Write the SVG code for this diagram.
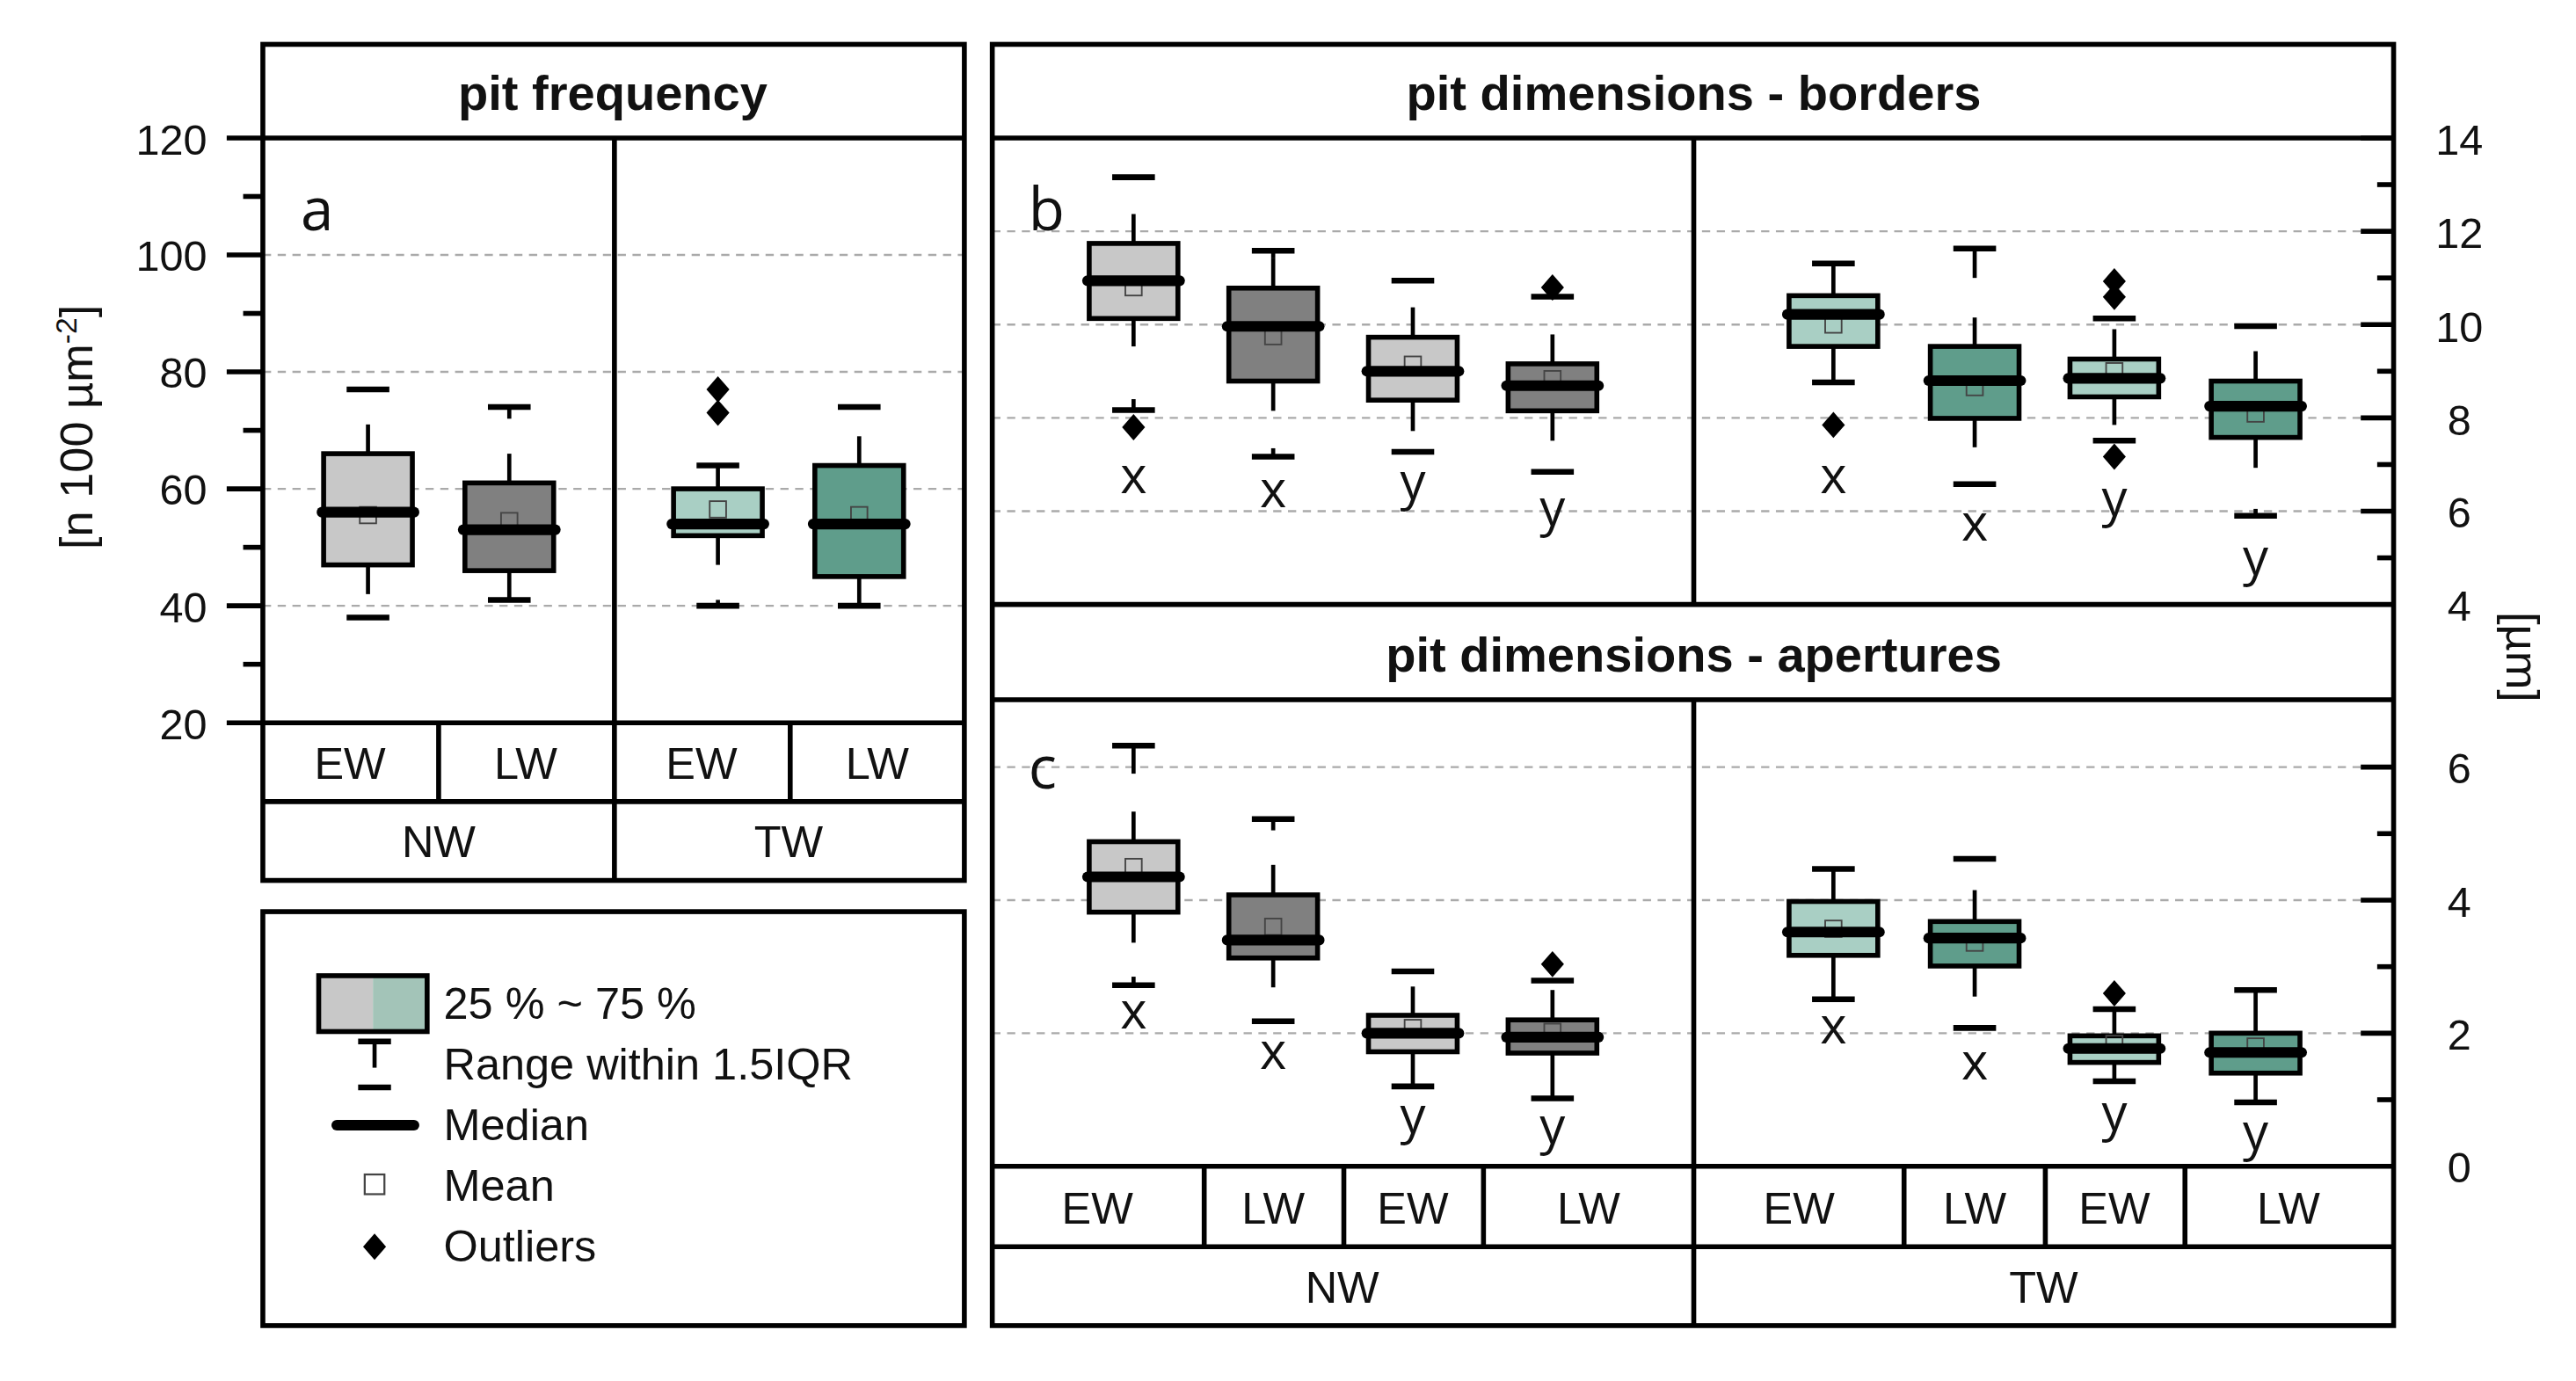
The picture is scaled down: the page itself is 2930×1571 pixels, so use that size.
<svg xmlns="http://www.w3.org/2000/svg" width="2930" height="1571" viewBox="0 0 2930 1571">
<style>
text{font-family:"Liberation Sans",Arial,sans-serif;fill:#111}
.t{font-weight:bold;font-size:30px;text-anchor:middle}
.cat{font-size:27px;text-anchor:middle}
.ax{font-size:26px}
.xy{font-size:31px;text-anchor:middle;font-family:"Open Sans","Liberation Sans",sans-serif}
.pl{font-size:36px;font-family:"Open Sans","Liberation Sans",sans-serif}
.fr{fill:none;stroke:#000;stroke-width:3}
.ln{stroke:#000;stroke-width:3}
.grid{stroke:#aaa;stroke-width:1.3;stroke-dasharray:5 4}
.bx rect.b{stroke:#000;stroke-width:3}
.bx line{stroke:#000;stroke-width:2.5}
.bx line.cap{stroke-width:3.5}
.bx line.med{stroke-width:6.5;stroke-linecap:round}
.bx rect.m{fill:none;stroke:#444;stroke-width:1}
.lg{fill:#c8c8c8}.dg{fill:#808080}.lt{fill:#a9cfc4}.tl{fill:#5f9d8b}
</style>
<defs>
<path id="dia" d="M0,-8 L7,0 L0,8 L-7,0 Z" fill="#000"/>
</defs>
<rect width="2930" height="1571" fill="#fff"/>
<g transform="scale(1.8686)">
<!-- gridlines -->
<g id="grid">
<line class="grid" x1="160" y1="155.2" x2="587" y2="155.2"/>
<line class="grid" x1="160" y1="226.4" x2="587" y2="226.4"/>
<line class="grid" x1="160" y1="297.6" x2="587" y2="297.6"/>
<line class="grid" x1="160" y1="368.8" x2="587" y2="368.8"/>
<line class="grid" x1="604" y1="140.8" x2="1457" y2="140.8"/>
<line class="grid" x1="604" y1="197.6" x2="1457" y2="197.6"/>
<line class="grid" x1="604" y1="254.4" x2="1457" y2="254.4"/>
<line class="grid" x1="604" y1="311.2" x2="1457" y2="311.2"/>
<line class="grid" x1="604" y1="467" x2="1457" y2="467"/>
<line class="grid" x1="604" y1="548" x2="1457" y2="548"/>
<line class="grid" x1="604" y1="629" x2="1457" y2="629"/>
</g>
<!-- frames -->
<g id="frames">
<rect class="fr" x="160" y="27" width="427" height="509"/>
<line class="ln" x1="160" y1="84" x2="587" y2="84"/>
<line class="ln" x1="160" y1="440" x2="587" y2="440"/>
<line class="ln" x1="160" y1="488" x2="587" y2="488"/>
<line class="ln" x1="374" y1="84" x2="374" y2="536"/>
<line class="ln" x1="267" y1="440" x2="267" y2="488"/>
<line class="ln" x1="481" y1="440" x2="481" y2="488"/>
<rect class="fr" x="604" y="27" width="853" height="780"/>
<line class="ln" x1="604" y1="84" x2="1457" y2="84"/>
<line class="ln" x1="604" y1="368" x2="1457" y2="368"/>
<line class="ln" x1="604" y1="426" x2="1457" y2="426"/>
<line class="ln" x1="604" y1="710" x2="1457" y2="710"/>
<line class="ln" x1="604" y1="759" x2="1457" y2="759"/>
<line class="ln" x1="1031" y1="84" x2="1031" y2="368"/>
<line class="ln" x1="1031" y1="426" x2="1031" y2="807"/>
<line class="ln" x1="733" y1="710" x2="733" y2="759"/>
<line class="ln" x1="818" y1="710" x2="818" y2="759"/>
<line class="ln" x1="903" y1="710" x2="903" y2="759"/>
<line class="ln" x1="1159" y1="710" x2="1159" y2="759"/>
<line class="ln" x1="1245" y1="710" x2="1245" y2="759"/>
<line class="ln" x1="1330" y1="710" x2="1330" y2="759"/>
<rect class="fr" x="160" y="555" width="427" height="252"/>
</g>
<!-- axes -->
<g id="axis-left">
<g class="ln">
<line x1="138" y1="84" x2="160" y2="84"/><line x1="138" y1="155.2" x2="160" y2="155.2"/><line x1="138" y1="226.4" x2="160" y2="226.4"/><line x1="138" y1="297.6" x2="160" y2="297.6"/><line x1="138" y1="368.8" x2="160" y2="368.8"/><line x1="138" y1="440" x2="160" y2="440"/>
<line x1="148" y1="119.6" x2="160" y2="119.6"/><line x1="148" y1="190.8" x2="160" y2="190.8"/><line x1="148" y1="262" x2="160" y2="262"/><line x1="148" y1="333.2" x2="160" y2="333.2"/><line x1="148" y1="404.4" x2="160" y2="404.4"/>
</g>
<g class="ax" text-anchor="end">
<text x="126" y="94">120</text><text x="126" y="165">100</text><text x="126" y="236">80</text><text x="126" y="307">60</text><text x="126" y="379">40</text><text x="126" y="450">20</text>
</g>
<text class="ax" font-size="28" text-anchor="middle" transform="translate(56,260) rotate(-90)" style="font-size:28px">[n 100 µm<tspan baseline-shift="super" font-size="18">-2</tspan>]</text>
</g>
<g id="axis-right">
<g class="ln">
<line x1="1437" y1="84" x2="1457" y2="84"/><line x1="1437" y1="140.8" x2="1457" y2="140.8"/><line x1="1437" y1="197.6" x2="1457" y2="197.6"/><line x1="1437" y1="254.4" x2="1457" y2="254.4"/><line x1="1437" y1="311.2" x2="1457" y2="311.2"/>
<line x1="1447" y1="112.4" x2="1457" y2="112.4"/><line x1="1447" y1="169.2" x2="1457" y2="169.2"/><line x1="1447" y1="226" x2="1457" y2="226"/><line x1="1447" y1="282.8" x2="1457" y2="282.8"/><line x1="1447" y1="339.6" x2="1457" y2="339.6"/>
<line x1="1437" y1="467" x2="1457" y2="467"/><line x1="1437" y1="548" x2="1457" y2="548"/><line x1="1437" y1="629" x2="1457" y2="629"/>
<line x1="1447" y1="507.5" x2="1457" y2="507.5"/><line x1="1447" y1="588.5" x2="1457" y2="588.5"/><line x1="1447" y1="669.5" x2="1457" y2="669.5"/>
</g>
<g class="ax" text-anchor="middle">
<text x="1497" y="94">14</text><text x="1497" y="151">12</text><text x="1497" y="208">10</text><text x="1497" y="265">8</text><text x="1497" y="321">6</text><text x="1497" y="378">4</text>
<text x="1497" y="477">6</text><text x="1497" y="558">4</text><text x="1497" y="639">2</text><text x="1497" y="720">0</text>
</g>
<text text-anchor="middle" transform="translate(1526,400) rotate(90)" style="font-size:28px">[µm]</text>
</g>
<!-- titles & labels -->
<g id="labels">
<text class="t" x="373" y="67">pit frequency</text>
<text class="t" x="1031" y="67">pit dimensions - borders</text>
<text class="t" x="1031" y="409">pit dimensions - apertures</text>
<text class="pl" x="183" y="140">a</text>
<text class="pl" x="626" y="140">b</text>
<text class="pl" x="626" y="480">c</text>
<text class="cat" x="213" y="474">EW</text><text class="cat" x="320" y="474">LW</text><text class="cat" x="427" y="474">EW</text><text class="cat" x="534" y="474">LW</text>
<text class="cat" x="267" y="522">NW</text><text class="cat" x="480" y="522">TW</text>
<text class="cat" x="668" y="745">EW</text><text class="cat" x="775" y="745">LW</text><text class="cat" x="860" y="745">EW</text><text class="cat" x="967" y="745">LW</text>
<text class="cat" x="1095" y="745">EW</text><text class="cat" x="1202" y="745">LW</text><text class="cat" x="1287" y="745">EW</text><text class="cat" x="1393" y="745">LW</text>
<text class="cat" x="817" y="793">NW</text><text class="cat" x="1244" y="793">TW</text>
<text class="xy" x="690" y="300">x</text><text class="xy" x="775" y="309">x</text><text class="xy" x="860" y="304">y</text><text class="xy" x="945" y="320">y</text>
<text class="xy" x="1116" y="300">x</text><text class="xy" x="1202" y="329">x</text><text class="xy" x="1287" y="314">y</text><text class="xy" x="1373" y="350">y</text>
<text class="xy" x="690" y="626">x</text><text class="xy" x="775" y="651">x</text><text class="xy" x="860" y="690">y</text><text class="xy" x="945" y="696">y</text>
<text class="xy" x="1116" y="635">x</text><text class="xy" x="1202" y="657">x</text><text class="xy" x="1287" y="688">y</text><text class="xy" x="1373" y="700">y</text>
</g>
<!-- panel a boxes -->
<g id="a-nw-ew" class="bx">
<line x1="224" y1="276.2" x2="224" y2="258.4"/><line x1="224" y1="343.9" x2="224" y2="361.7"/>
<line class="cap" x1="211" y1="237.1" x2="237" y2="237.1"/><line class="cap" x1="211" y1="375.9" x2="237" y2="375.9"/>
<rect class="b lg" x="197" y="276.2" width="54" height="67.7"/>
<rect class="m" x="219" y="308.6" width="10" height="10"/>
<line class="med" x1="196" y1="311.8" x2="252" y2="311.8"/>
</g>
<g id="a-nw-lw" class="bx">
<line x1="310" y1="294" x2="310" y2="276.2"/><line x1="310" y1="254.9" x2="310" y2="247.8"/><line x1="310" y1="347.4" x2="310" y2="365.2"/>
<line class="cap" x1="297" y1="247.8" x2="323" y2="247.8"/><line class="cap" x1="297" y1="365.2" x2="323" y2="365.2"/>
<rect class="b dg" x="283" y="294" width="54" height="53.4"/>
<rect class="m" x="305" y="312.2" width="10" height="10"/>
<line class="med" x1="282" y1="322.5" x2="338" y2="322.5"/>
</g>
<g id="a-tw-ew" class="bx">
<line x1="437" y1="297.6" x2="437" y2="283.4"/><line x1="437" y1="326.1" x2="437" y2="343.9"/><line x1="437" y1="365.2" x2="437" y2="368.8"/>
<line class="cap" x1="424" y1="283.4" x2="450" y2="283.4"/><line class="cap" x1="424" y1="368.8" x2="450" y2="368.8"/>
<rect class="b lt" x="410" y="297.6" width="54" height="28.5"/>
<rect class="m" x="432" y="305.1" width="10" height="10"/>
<line class="med" x1="409" y1="319" x2="465" y2="319"/>
<use href="#dia" x="437" y="237.1"/><use href="#dia" x="437" y="251.3"/>
</g>
<g id="a-tw-lw" class="bx">
<line x1="523" y1="283.4" x2="523" y2="265.6"/><line x1="523" y1="351" x2="523" y2="368.8"/>
<line class="cap" x1="510" y1="247.8" x2="536" y2="247.8"/><line class="cap" x1="510" y1="368.8" x2="536" y2="368.8"/>
<rect class="b tl" x="496" y="283.4" width="54" height="67.6"/>
<rect class="m" x="518" y="308.6" width="10" height="10"/>
<line class="med" x1="495" y1="319" x2="551" y2="319"/>
</g>
<!-- panel b boxes -->
<g id="b-nw-ew-x" class="bx">
<line x1="690" y1="148.2" x2="690" y2="130.3"/><line x1="690" y1="193.9" x2="690" y2="210.9"/><line x1="690" y1="243" x2="690" y2="249.6"/>
<line class="cap" x1="677" y1="107.9" x2="703" y2="107.9"/><line class="cap" x1="677" y1="249.6" x2="703" y2="249.6"/>
<rect class="b lg" x="663" y="148.2" width="54" height="45.7"/>
<rect class="m" x="685" y="169.9" width="10" height="10"/>
<line class="med" x1="662" y1="170.9" x2="718" y2="170.9"/>
<use href="#dia" x="690" y="260.1"/>
</g>
<g id="b-nw-lw-x" class="bx">
<line x1="775" y1="175.4" x2="775" y2="157.3"/><line x1="775" y1="232" x2="775" y2="250.1"/><line x1="775" y1="272.9" x2="775" y2="278"/>
<line class="cap" x1="762" y1="152.7" x2="788" y2="152.7"/><line class="cap" x1="762" y1="278" x2="788" y2="278"/>
<line x1="775" y1="157.3" x2="775" y2="152.7"/>
<rect class="b dg" x="748" y="175.4" width="54" height="56.6"/>
<rect class="m" x="770" y="199.7" width="10" height="10"/>
<line class="med" x1="747" y1="198.7" x2="803" y2="198.7"/>
</g>
<g id="b-nw-ew-y" class="bx">
<line x1="860" y1="205.3" x2="860" y2="187.1"/><line x1="860" y1="243.6" x2="860" y2="262.4"/>
<line class="cap" x1="847" y1="170.9" x2="873" y2="170.9"/><line class="cap" x1="847" y1="275.1" x2="873" y2="275.1"/>
<rect class="b lg" x="833" y="205.3" width="54" height="38.3"/>
<rect class="m" x="855" y="217" width="10" height="10"/>
<line class="med" x1="832" y1="226" x2="888" y2="226"/>
</g>
<g id="b-nw-lw-y" class="bx">
<line x1="945" y1="221.5" x2="945" y2="203.6"/><line x1="945" y1="250.1" x2="945" y2="268.3"/>
<line class="cap" x1="932" y1="180.6" x2="958" y2="180.6"/><line class="cap" x1="932" y1="287.3" x2="958" y2="287.3"/>
<rect class="b dg" x="918" y="221.5" width="54" height="28.6"/>
<rect class="m" x="940" y="225.8" width="10" height="10"/>
<line class="med" x1="917" y1="234.8" x2="973" y2="234.8"/>
<use href="#dia" x="945" y="175"/>
</g>
<g id="b-tw-ew-x" class="bx">
<line x1="1116" y1="180" x2="1116" y2="160.4"/><line x1="1116" y1="210.9" x2="1116" y2="232.8"/>
<line class="cap" x1="1103" y1="160.4" x2="1129" y2="160.4"/><line class="cap" x1="1103" y1="232.8" x2="1129" y2="232.8"/>
<rect class="b lt" x="1089" y="180" width="54" height="30.9"/>
<rect class="m" x="1111" y="192.6" width="10" height="10"/>
<line class="med" x1="1088" y1="191.4" x2="1144" y2="191.4"/>
<use href="#dia" x="1116" y="258.7"/>
</g>
<g id="b-tw-lw-x" class="bx">
<line x1="1202" y1="210.9" x2="1202" y2="193.3"/><line x1="1202" y1="169.2" x2="1202" y2="151.3"/><line x1="1202" y1="254.7" x2="1202" y2="272.3"/>
<line class="cap" x1="1189" y1="151.3" x2="1215" y2="151.3"/><line class="cap" x1="1189" y1="294.7" x2="1215" y2="294.7"/>
<rect class="b tl" x="1175" y="210.9" width="54" height="43.8"/>
<rect class="m" x="1197" y="230.7" width="10" height="10"/>
<line class="med" x1="1174" y1="231.7" x2="1230" y2="231.7"/>
</g>
<g id="b-tw-ew-y" class="bx">
<line x1="1287" y1="218.6" x2="1287" y2="200.4"/><line x1="1287" y1="241.6" x2="1287" y2="258.7"/>
<line class="cap" x1="1274" y1="193.9" x2="1300" y2="193.9"/><line class="cap" x1="1274" y1="268.3" x2="1300" y2="268.3"/>
<rect class="b lt" x="1260" y="218.6" width="54" height="23"/>
<rect class="m" x="1282" y="221" width="10" height="10"/>
<line class="med" x1="1259" y1="230.3" x2="1315" y2="230.3"/>
<use href="#dia" x="1287" y="171.2"/><use href="#dia" x="1287" y="180.8"/><use href="#dia" x="1287" y="278"/>
</g>
<g id="b-tw-lw-y" class="bx">
<line x1="1373" y1="232" x2="1373" y2="213.8"/><line x1="1373" y1="266.3" x2="1373" y2="284.8"/><line x1="1373" y1="309.8" x2="1373" y2="314"/>
<line class="cap" x1="1360" y1="198.5" x2="1386" y2="198.5"/><line class="cap" x1="1360" y1="314" x2="1386" y2="314"/>
<rect class="b tl" x="1346" y="232" width="54" height="34.3"/>
<rect class="m" x="1368" y="246.8" width="10" height="10"/>
<line class="med" x1="1345" y1="247.3" x2="1401" y2="247.3"/>
</g>
<!-- panel c boxes -->
<g id="c-nw-ew-x" class="bx">
<line x1="690" y1="512.4" x2="690" y2="494.1"/><line x1="690" y1="471" x2="690" y2="454"/><line x1="690" y1="555.3" x2="690" y2="573.9"/><line x1="690" y1="594.6" x2="690" y2="599.8"/>
<line class="cap" x1="677" y1="454" x2="703" y2="454"/><line class="cap" x1="677" y1="599.8" x2="703" y2="599.8"/>
<rect class="b lg" x="663" y="512.4" width="54" height="42.9"/>
<rect class="m" x="685" y="522.8" width="10" height="10"/>
<line class="med" x1="662" y1="533.8" x2="718" y2="533.8"/>
</g>
<g id="c-nw-lw-x" class="bx">
<line x1="775" y1="544.8" x2="775" y2="526.5"/><line x1="775" y1="505.5" x2="775" y2="498.6"/><line x1="775" y1="583.2" x2="775" y2="601.1"/>
<line class="cap" x1="762" y1="498.6" x2="788" y2="498.6"/><line class="cap" x1="762" y1="621.7" x2="788" y2="621.7"/>
<rect class="b dg" x="748" y="544.8" width="54" height="38.4"/>
<rect class="m" x="770" y="559.2" width="10" height="10"/>
<line class="med" x1="747" y1="572.3" x2="803" y2="572.3"/>
</g>
<g id="c-nw-ew-y" class="bx">
<line x1="860" y1="618.1" x2="860" y2="600.6"/><line x1="860" y1="640.3" x2="860" y2="661.4"/>
<line class="cap" x1="847" y1="591.3" x2="873" y2="591.3"/><line class="cap" x1="847" y1="661.4" x2="873" y2="661.4"/>
<rect class="b lg" x="833" y="618.1" width="54" height="22.2"/>
<rect class="m" x="855" y="620.8" width="10" height="10"/>
<line class="med" x1="832" y1="629" x2="888" y2="629"/>
</g>
<g id="c-nw-lw-y" class="bx">
<line x1="945" y1="620.9" x2="945" y2="602.7"/><line x1="945" y1="641.1" x2="945" y2="668.7"/>
<line class="cap" x1="932" y1="597" x2="958" y2="597"/><line class="cap" x1="932" y1="668.7" x2="958" y2="668.7"/>
<rect class="b dg" x="918" y="620.9" width="54" height="20.2"/>
<rect class="m" x="940" y="623.2" width="10" height="10"/>
<line class="med" x1="917" y1="631.4" x2="973" y2="631.4"/>
<use href="#dia" x="945" y="587"/>
</g>
<g id="c-tw-ew-x" class="bx">
<line x1="1116" y1="548.8" x2="1116" y2="529"/><line x1="1116" y1="581.6" x2="1116" y2="608.3"/>
<line class="cap" x1="1103" y1="529" x2="1129" y2="529"/><line class="cap" x1="1103" y1="608.3" x2="1129" y2="608.3"/>
<rect class="b lt" x="1089" y="548.8" width="54" height="32.8"/>
<rect class="m" x="1111" y="560.4" width="10" height="10"/>
<line class="med" x1="1088" y1="567.4" x2="1144" y2="567.4"/>
</g>
<g id="c-tw-lw-x" class="bx">
<line x1="1202" y1="561" x2="1202" y2="541.9"/><line x1="1202" y1="588.1" x2="1202" y2="606.7"/>
<line class="cap" x1="1189" y1="522.9" x2="1215" y2="522.9"/><line class="cap" x1="1189" y1="625.8" x2="1215" y2="625.8"/>
<rect class="b tl" x="1175" y="561" width="54" height="27.1"/>
<rect class="m" x="1197" y="568.9" width="10" height="10"/>
<line class="med" x1="1174" y1="571.1" x2="1230" y2="571.1"/>
</g>
<g id="c-tw-ew-y" class="bx">
<line x1="1287" y1="630.6" x2="1287" y2="614.4"/><line x1="1287" y1="646.8" x2="1287" y2="658.2"/>
<line class="cap" x1="1274" y1="614.4" x2="1300" y2="614.4"/><line class="cap" x1="1274" y1="658.2" x2="1300" y2="658.2"/>
<rect class="b lt" x="1260" y="630.6" width="54" height="16.2"/>
<rect class="m" x="1282" y="630.5" width="10" height="10"/>
<line class="med" x1="1259" y1="638.3" x2="1315" y2="638.3"/>
<use href="#dia" x="1287" y="604.7"/>
</g>
<g id="c-tw-lw-y" class="bx">
<line x1="1373" y1="629" x2="1373" y2="602.7"/><line x1="1373" y1="653.3" x2="1373" y2="671.1"/>
<line class="cap" x1="1360" y1="602.7" x2="1386" y2="602.7"/><line class="cap" x1="1360" y1="671.1" x2="1386" y2="671.1"/>
<rect class="b tl" x="1346" y="629" width="54" height="24.3"/>
<rect class="m" x="1368" y="632.1" width="10" height="10"/>
<line class="med" x1="1345" y1="640.7" x2="1401" y2="640.7"/>
</g>
<!-- legend -->
<g id="legend">
<rect x="194" y="594" width="33" height="34" fill="#c8c8c8"/>
<rect x="227" y="594" width="33" height="34" fill="#a3c4b8"/>
<rect x="194" y="594" width="66" height="34" fill="none" stroke="#000" stroke-width="3"/>
<line x1="218" y1="634" x2="238" y2="634" stroke="#000" stroke-width="3.5"/>
<line x1="228" y1="634" x2="228" y2="650" stroke="#000" stroke-width="2.5"/>
<line x1="218" y1="662" x2="238" y2="662" stroke="#000" stroke-width="3.5"/>
<line x1="205" y1="685" x2="252" y2="685" stroke="#000" stroke-width="6.5" stroke-linecap="round"/>
<rect x="222" y="715" width="12" height="12" fill="none" stroke="#444" stroke-width="1.2"/>
<use href="#dia" x="228" y="759"/>
<g style="font-size:27px">
<text x="270" y="620">25 % ~ 75 %</text>
<text x="270" y="657">Range within 1.5IQR</text>
<text x="270" y="694">Median</text>
<text x="270" y="731">Mean</text>
<text x="270" y="768">Outliers</text>
</g>
</g>
</g>
</svg>
